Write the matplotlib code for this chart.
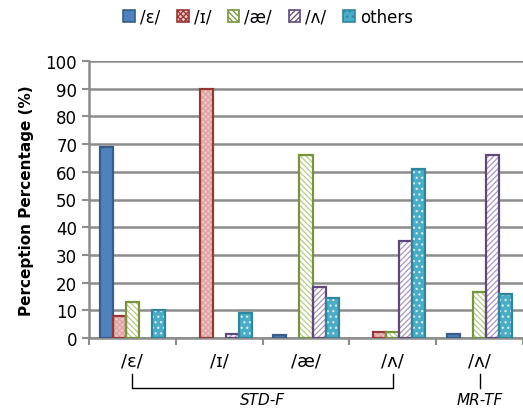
import numpy as np
import matplotlib.pyplot as plt
from matplotlib.transforms import blended_transform_factory
from matplotlib.patches import Patch

plt.rcParams['font.family'] = ['DejaVu Sans']
plt.rcParams['hatch.linewidth'] = 0.9

# categories (stimulus vowels) and perception percentages per response
categorias = ['/ɛ/', '/ɪ/', '/æ/', '/ʌ/', '/ʌ/']
series = ['/ɛ/', '/ɪ/', '/æ/', '/ʌ/', 'others']
resp_e = [69, 0, 1, 0, 1.5]
resp_i = [8, 90, 0, 2, 0]
resp_ae = [13, 0, 66, 2, 16.5]
resp_v = [0, 1.5, 18.5, 35, 66]
resp_otros = [10, 9, 14.5, 61, 16]
grupos = ['STD-F', 'MR-TF']

valores = [resp_e, resp_i, resp_ae, resp_v, resp_otros]
# (relleno, color de trama, trama, borde)
estilos = [
    ('#4F81BD', '#4F81BD', None, '#385D8A'),
    ('#F0C4C3', '#DCA3A2', 'xxxxxx', '#953735'),
    ('white', '#B5CC85', '\\\\\\\\\\\\', '#77933C'),
    ('white', '#A898C4', '//////', '#5F497A'),
    ('#4BACC6', '#D4EEF5', '...', '#31859C'),
]

fig = plt.figure(figsize=(5.23, 4.10), dpi=100)
ax = fig.add_axes([89/523, 1-339/410, 1-89/523, (339-62)/410])

x = np.arange(len(categorias))
ancho = 0.15
for k, (vals, (fc, hc, hatch, ec)) in enumerate(zip(valores, estilos)):
    vals = np.array(vals, dtype=float)
    pos = x + (k - 2) * ancho
    m = vals > 0
    ax.bar(pos[m], vals[m], ancho, color=fc, edgecolor=hc, hatch=hatch, linewidth=0, zorder=3)
    ax.bar(pos[m], vals[m], ancho, facecolor='none', edgecolor=ec, linewidth=1.6, zorder=4)

ax.set_xlim(-0.5, 4.5)
ax.set_ylim(0, 100)
ax.set_yticks(range(0, 101, 10))
ax.yaxis.grid(True, color='#8C8C8C', linewidth=1.8, zorder=0)
ax.set_axisbelow(True)
ax.set_xticks(np.arange(-0.5, 4.6, 1))
ax.set_xticklabels([])
ax.set_xticks(x, minor=True)
ax.set_xticklabels(categorias, minor=True, fontsize=13)
ax.tick_params(axis='x', which='minor', length=0, pad=10)
ax.tick_params(axis='x', which='major', length=5, width=1.5, color='#8C8C8C')
ax.tick_params(axis='y', length=5, width=1.5, color='#8C8C8C', labelsize=12)
for s in ['top', 'right']:
    ax.spines[s].set_visible(False)
for s in ['left', 'bottom']:
    ax.spines[s].set_color('#8C8C8C')
    ax.spines[s].set_linewidth(1.8)
ax.set_ylabel('Perception Percentage (%)', fontsize=11, fontweight='bold', labelpad=8)

# corchetes bajo los ejes
tr = blended_transform_factory(ax.transData, fig.transFigure)
y1, y2 = 1-375/410, 1-389/410
ax.plot([0, 0, 3, 3], [y1, y2, y2, y1], transform=tr, color='black', lw=1, clip_on=False)
ax.plot([4, 4], [y1, y2], transform=tr, color='black', lw=1, clip_on=False)
ax.text(1.5, 1-401/410, grupos[0], transform=tr, ha='center', va='center',
        fontsize=11, style='italic')
ax.text(4, 1-401/410, grupos[1], transform=tr, ha='center', va='center',
        fontsize=11, style='italic')

hand = [Patch(facecolor=fc, edgecolor=ec, hatch=hatch, linewidth=1.2)
        for (fc, hc, hatch, ec) in estilos]
fig.legend(hand, series, loc='center', bbox_to_anchor=(268/523, 1-18/410), ncol=5,
           frameon=False, fontsize=12, handlelength=0.7, handleheight=0.7,
           handletextpad=0.3, columnspacing=1.0)

fig.savefig('out.png', dpi=100)
